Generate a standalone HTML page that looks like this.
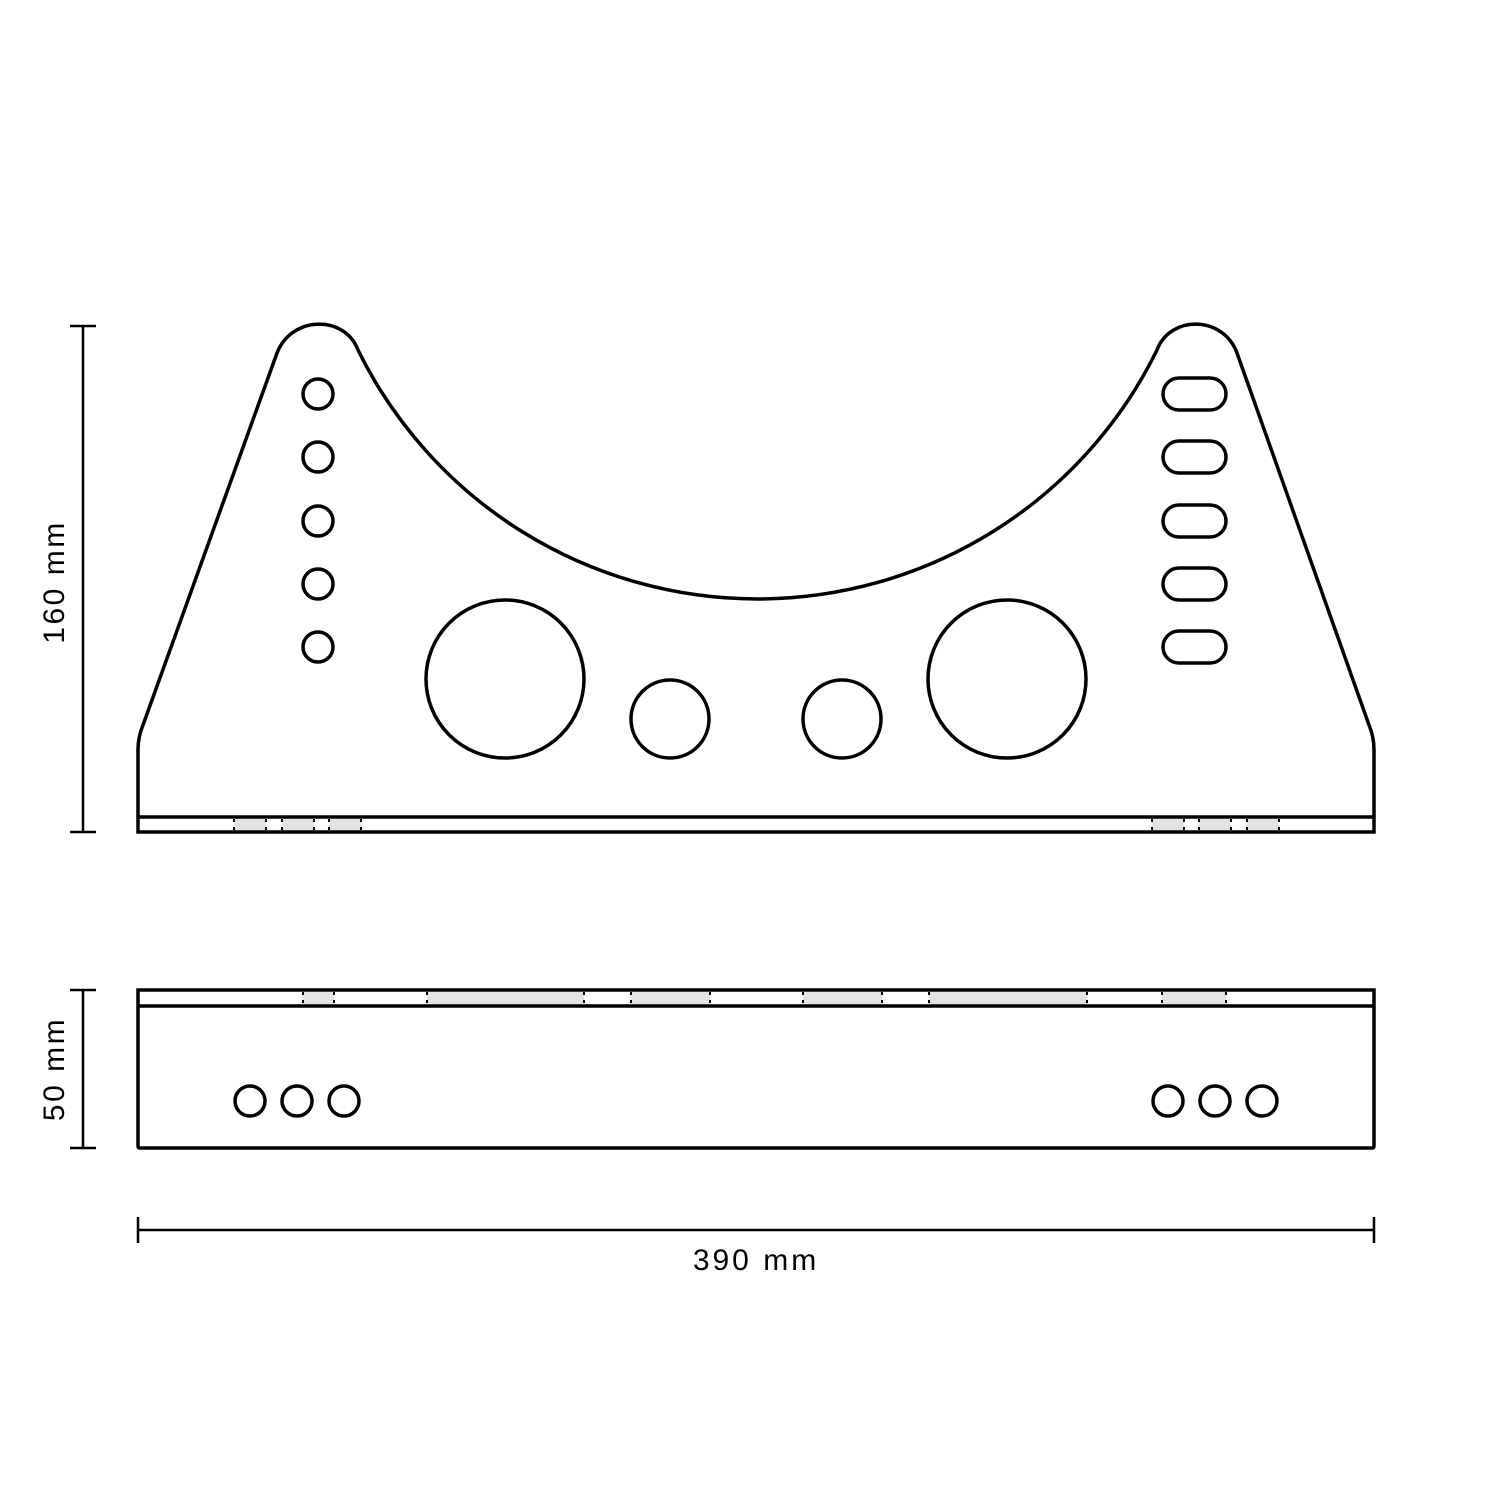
<!DOCTYPE html>
<html><head><style>body{margin:0;background:#fff}svg{display:block}</style></head><body>
<svg width="1500" height="1500" viewBox="0 0 1500 1500" xmlns="http://www.w3.org/2000/svg">
<rect width="1500" height="1500" fill="#fff"/>
<g fill="#e3e3e3">
<rect x="234" y="819" width="32" height="12"/><rect x="282" y="819" width="32" height="12"/><rect x="329" y="819" width="32" height="12"/>
<rect x="1152" y="819" width="32" height="12"/><rect x="1199" y="819" width="32" height="12"/><rect x="1247" y="819" width="32" height="12"/>
<rect x="303" y="992" width="31" height="13"/><rect x="427" y="992" width="157" height="13"/><rect x="631" y="992" width="79" height="13"/>
<rect x="803" y="992" width="79" height="13"/><rect x="929" y="992" width="158" height="13"/><rect x="1162" y="992" width="64" height="13"/>
</g>
<g stroke="#000" stroke-width="2" stroke-dasharray="3 5">
<path d="M234 819V831M266 819V831M282 819V831M314 819V831M329 819V831M361 819V831M1152 819V831M1184 819V831M1199 819V831M1231 819V831M1247 819V831M1279 819V831"/>
<path d="M303 992V1005M334 992V1005M427 992V1005M584 992V1005M631 992V1005M710 992V1005M803 992V1005M882 992V1005M929 992V1005M1087 992V1005M1162 992V1005M1226 992V1005"/>
</g>
<g fill="none" stroke="#000" stroke-width="3.5">
<path d="M143 725 L277 353 C292 315 345 315 358 350 A445 445 0 0 0 1157 350 C1170 315 1223 315 1237 353 L1369 725 Q1374 737 1374 750 L1374 832 L138 832 L138 750 Q138 737 143 725 Z"/>
<line x1="138" y1="817" x2="1374" y2="817"/>
<circle cx="318" cy="394" r="15"/><circle cx="318" cy="457" r="15"/><circle cx="318" cy="521" r="15"/><circle cx="318" cy="584" r="15"/><circle cx="318" cy="647" r="15"/>
<rect x="1163" y="378" width="63" height="32" rx="16"/><rect x="1163" y="441" width="63" height="32" rx="16"/><rect x="1163" y="505" width="63" height="32" rx="16"/><rect x="1163" y="568" width="63" height="32" rx="16"/><rect x="1163" y="631" width="63" height="32" rx="16"/>
<circle cx="505" cy="679" r="79"/><circle cx="1007" cy="679" r="79"/>
<circle cx="670" cy="719" r="39"/><circle cx="842" cy="719" r="39"/>
<path d="M138 990 H1374 V1146 Q1374 1148 1372 1148 H140 Q138 1148 138 1146 Z"/>
<line x1="138" y1="1006" x2="1374" y2="1006"/>
<circle cx="250" cy="1101" r="15"/><circle cx="297" cy="1101" r="15"/><circle cx="344" cy="1101" r="15"/>
<circle cx="1168" cy="1101" r="15"/><circle cx="1215" cy="1101" r="15"/><circle cx="1262" cy="1101" r="15"/>
</g>
<g stroke="#000" stroke-width="2.5" fill="none">
<path d="M83 326V832M70 326H96M70 832H96"/>
<path d="M83 990V1148M70 990H96M70 1148H96"/>
<path d="M138 1230H1374M138 1217V1243M1374 1217V1243"/>
</g>
<g font-family="Liberation Sans, sans-serif" font-size="30" fill="#000" text-anchor="middle">
<text x="756" y="1270" letter-spacing="3">390 mm</text>
<text transform="translate(64 582) rotate(-90)" letter-spacing="2.5">160 mm</text>
<text transform="translate(64 1069) rotate(-90)" letter-spacing="2.5">50 mm</text>
</g>
</svg>
</body></html>
